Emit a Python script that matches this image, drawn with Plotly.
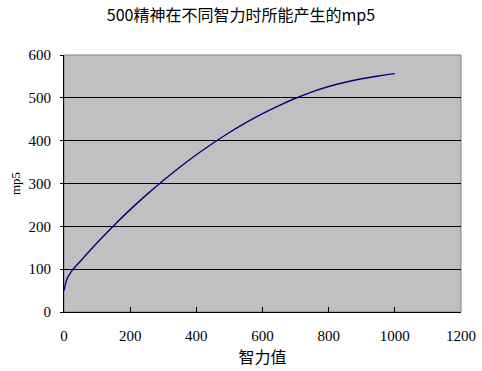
import plotly.graph_objects as go

intelligence = [0, 4, 10, 20, 30, 50, 100, 150, 200, 250, 300, 350, 400, 450, 500,
                550, 600, 650, 700, 750, 800, 850, 900, 950, 1000]
mp5 = [50, 64, 79, 92, 102, 119, 161.5, 201.5, 239, 274, 307, 338, 367, 394, 419,
       442, 463, 482, 499, 514, 526.5, 536.5, 544.5, 551, 556.5]

title_text = "500精神在不同智力时所能产生的mp5"
x_title = "智力值"
y_title = "mp5"

cjk = "'Noto Sans CJK SC'"
serif_num = "'Liberation Serif', 'Noto Sans CJK SC', serif"

fig = go.Figure()
fig.add_trace(go.Scatter(
    x=intelligence, y=mp5, mode="lines",
    line=dict(color="#000080", width=1.4, shape="spline", smoothing=0.6),
    hoverinfo="skip", showlegend=False,
))

fig.update_layout(
    width=482, height=371,
    margin=dict(l=64, r=21, t=55, b=59),
    paper_bgcolor="white",
    plot_bgcolor="#C0C0C0",
    title=dict(text=title_text, x=0.5, xanchor="center", y=0.958, yanchor="middle",
               font=dict(family=cjk, size=16, color="black")),
    font=dict(family=serif_num, size=15, color="black"),
    showlegend=False,
)
fig.update_xaxes(
    range=[0, 1200], tickvals=[0, 200, 400, 600, 800, 1000, 1200],
    showgrid=False, zeroline=False, automargin=False,
    showline=True, linecolor="black", linewidth=1, mirror=False,
    ticks="inside", ticklen=5, tickcolor="black",
    tickfont=dict(family=serif_num, size=15), ticklabelstandoff=10,
    title=dict(text=x_title, font=dict(family=cjk, size=16), standoff=8),
)
fig.update_yaxes(
    range=[0, 600], tickvals=[0, 100, 200, 300, 400, 500, 600],
    showgrid=True, gridcolor="black", gridwidth=1, zeroline=False, automargin=False,
    showline=True, linecolor="black", linewidth=1,
    ticks="outside", ticklen=3, tickcolor="black",
    tickfont=dict(family=serif_num, size=15), ticklabelstandoff=6,
    title=dict(text=y_title, font=dict(family=serif_num, size=13), standoff=4),
)
fig.add_shape(type="rect", xref="paper", yref="paper", x0=0, y0=0, x1=1, y1=1,
              line=dict(color="#808080", width=1), layer="below")

fig.write_html("out.html")
